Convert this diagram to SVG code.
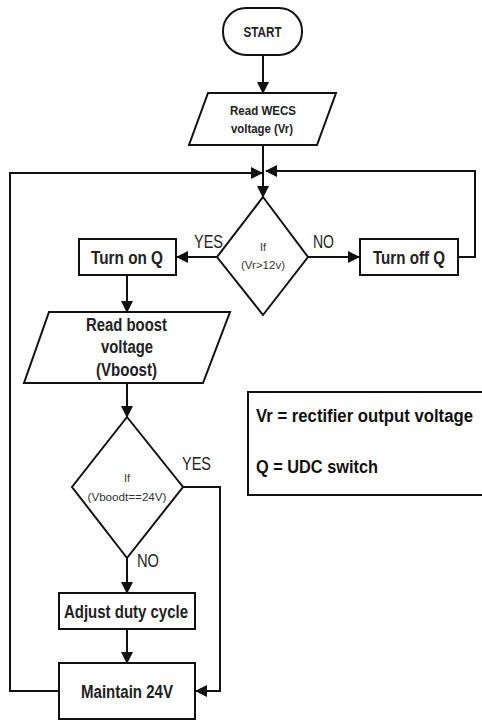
<svg xmlns="http://www.w3.org/2000/svg" width="482" height="722" viewBox="0 0 482 722">
<defs>
<style>
.s{fill:#fff;stroke:#111;stroke-width:2}
.c{fill:none;stroke:#111;stroke-width:2}
.t{font-family:"Liberation Sans Narrow","Liberation Sans",Arial,sans-serif;font-weight:bold;fill:#222;text-anchor:middle}
.d{font-family:"Liberation Sans Narrow","Liberation Sans",Arial,sans-serif;font-weight:normal;fill:#333;text-anchor:middle;font-size:11.5px}
.l{font-family:"Liberation Sans Narrow","Liberation Sans",Arial,sans-serif;font-weight:normal;fill:#222;font-size:18px}
.g{font-family:"Liberation Sans Narrow","Liberation Sans",Arial,sans-serif;font-weight:bold;fill:#111;font-size:17.5px}
</style>
<marker id="a" markerUnits="userSpaceOnUse" markerWidth="12" markerHeight="12" refX="11" refY="6" orient="auto" viewBox="0 0 12 12">
<path d="M0,0 L12,6 L0,12 z" fill="#111"/>
</marker>
</defs>
<rect width="482" height="722" fill="#fff"/>
<g id="connectors">
<path class="c" d="M263,55 V93" marker-end="url(#a)"/>
<path class="c" d="M263,145 V197" marker-end="url(#a)"/>
<path class="c" d="M59,691 H10 V173 H262" marker-end="url(#a)"/>
<path class="c" d="M458,257 H475 V171 H266" marker-end="url(#a)"/>
<path class="c" d="M217,257 H177" marker-end="url(#a)"/>
<path class="c" d="M308,257 H359" marker-end="url(#a)"/>
<path class="c" d="M127,275 V312" marker-end="url(#a)"/>
<path class="c" d="M127,383 V417" marker-end="url(#a)"/>
<path class="c" d="M127,558 V593" marker-end="url(#a)"/>
<path class="c" d="M127,629 V663" marker-end="url(#a)"/>
<path class="c" d="M183,487 H220 V691 H196" marker-end="url(#a)"/>
<text class="l" x="194" y="248" textLength="29" lengthAdjust="spacingAndGlyphs">YES</text>
<text class="l" x="313" y="248" textLength="21" lengthAdjust="spacingAndGlyphs">NO</text>
<text class="l" x="182" y="470" textLength="29" lengthAdjust="spacingAndGlyphs">YES</text>
<text class="l" x="137" y="567" textLength="22" lengthAdjust="spacingAndGlyphs">NO</text>
</g>
<g id="start">
<rect class="s" x="223" y="8" width="79" height="47" rx="23" ry="23"/>
<text class="t" x="262.5" y="36.5" font-size="14" textLength="38" lengthAdjust="spacingAndGlyphs">START</text>
</g>
<g id="readWecs">
<polygon class="s" points="208,93 336,93 317,145 189,145"/>
<text class="t" x="263" y="114.5" font-size="13" textLength="66" lengthAdjust="spacingAndGlyphs">Read WECS</text>
<text class="t" x="262" y="132.5" font-size="13" textLength="62" lengthAdjust="spacingAndGlyphs">voltage (Vr)</text>
</g>
<g id="decision1">
<polygon class="s" points="263,197 308,257 263,315 217,257"/>
<text class="d" x="263" y="251" textLength="6" lengthAdjust="spacingAndGlyphs">If</text>
<text class="d" x="263" y="269" textLength="44" lengthAdjust="spacingAndGlyphs">(Vr&gt;12v)</text>
</g>
<g id="turnOnQ">
<rect class="s" x="79" y="239" width="97" height="36"/>
<text class="t" x="127" y="263.5" font-size="18" textLength="72" lengthAdjust="spacingAndGlyphs">Turn on Q</text>
</g>
<g id="turnOffQ">
<rect class="s" x="360" y="239" width="98" height="36"/>
<text class="t" x="409" y="263.5" font-size="18" textLength="72" lengthAdjust="spacingAndGlyphs">Turn off Q</text>
</g>
<g id="readBoost">
<polygon class="s" points="49,312 230,312 203,383 24,383"/>
<text class="t" x="126.5" y="330.5" font-size="18" textLength="81" lengthAdjust="spacingAndGlyphs">Read boost</text>
<text class="t" x="127" y="352.5" font-size="18" textLength="52" lengthAdjust="spacingAndGlyphs">voltage</text>
<text class="t" x="126.5" y="375.5" font-size="18" textLength="61" lengthAdjust="spacingAndGlyphs">(Vboost)</text>
</g>
<g id="decision2">
<polygon class="s" points="127,417 183,487 127,558 72,487"/>
<text class="d" x="127" y="482" textLength="6" lengthAdjust="spacingAndGlyphs">If</text>
<text class="d" x="127" y="501" textLength="79" lengthAdjust="spacingAndGlyphs">(Vboodt==24V)</text>
</g>
<g id="adjust">
<rect class="s" x="59" y="593" width="136" height="36"/>
<text class="t" x="126" y="617.5" font-size="18" textLength="124" lengthAdjust="spacingAndGlyphs">Adjust duty cycle</text>
</g>
<g id="maintain">
<rect class="s" x="59" y="663" width="136" height="56"/>
<text class="t" x="127" y="697.5" font-size="18" textLength="92" lengthAdjust="spacingAndGlyphs">Maintain 24V</text>
</g>
<g id="legend">
<rect class="s" x="248" y="392" width="245" height="103"/>
<text class="g" x="256" y="422" textLength="217" lengthAdjust="spacingAndGlyphs">Vr = rectifier output voltage</text>
<text class="g" x="256" y="473" textLength="122" lengthAdjust="spacingAndGlyphs">Q = UDC switch</text>
</g>
</svg>
